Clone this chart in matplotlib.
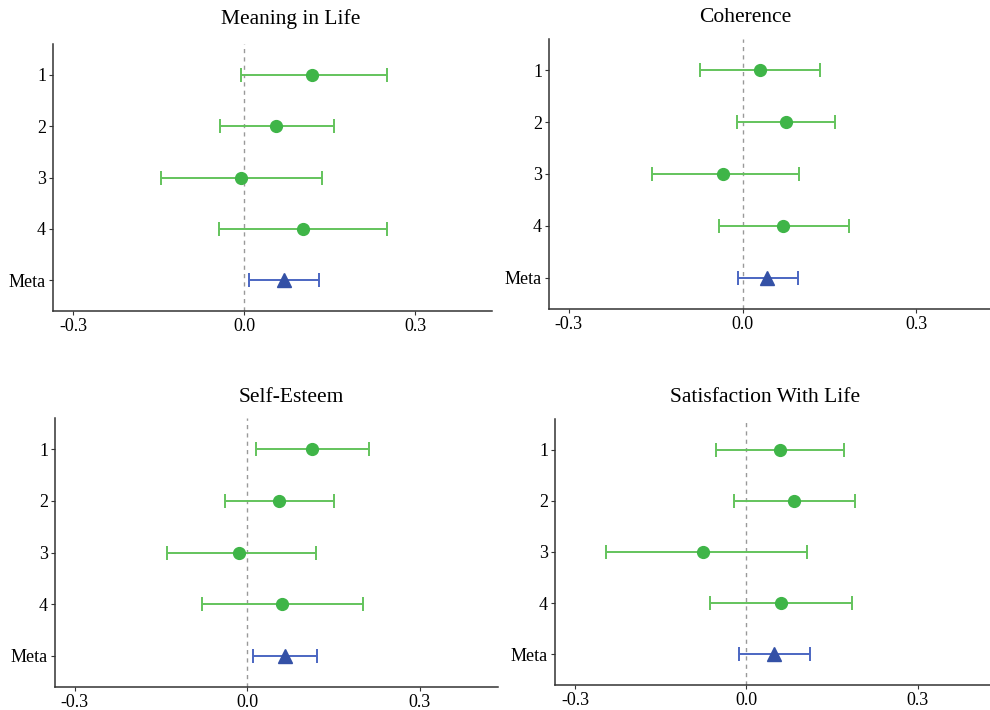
import matplotlib
matplotlib.use("Agg")
import matplotlib.pyplot as plt
import numpy as np

plt.rcParams["font.family"] = ["Liberation Serif", "DejaVu Serif"]

titres = ["Meaning in Life", "Coherence", "Self-Esteem", "Satisfaction With Life"]
etudes = ["1", "2", "3", "4", "Meta"]

# estimations (points) et bornes des IC, lignes 1..4 puis Meta
est_sens   = [0.120, 0.057, -0.006, 0.104, 0.070]
bas_sens   = [-0.006, -0.042, -0.146, -0.043, 0.009]
haut_sens  = [0.251, 0.157, 0.136, 0.250, 0.132]

est_coh    = [0.030, 0.075, -0.033, 0.070, 0.043]
bas_coh    = [-0.073, -0.009, -0.157, -0.041, -0.008]
haut_coh   = [0.133, 0.160, 0.097, 0.184, 0.095]

est_estime  = [0.113, 0.056, -0.014, 0.061, 0.066]
bas_estime  = [0.016, -0.038, -0.139, -0.078, 0.010]
haut_estime = [0.212, 0.151, 0.119, 0.202, 0.122]

est_satis  = [0.060, 0.084, -0.075, 0.061, 0.049]
bas_satis  = [-0.053, -0.021, -0.246, -0.064, -0.012]
haut_satis = [0.172, 0.190, 0.106, 0.185, 0.112]

donnees = [
    (est_sens, bas_sens, haut_sens),
    (est_coh, bas_coh, haut_coh),
    (est_estime, bas_estime, haut_estime),
    (est_satis, bas_satis, haut_satis),
]

VERT_LIGNE = "#63c35c"
VERT_POINT = "#3fb548"
BLEU_LIGNE = "#4b66c2"
BLEU_POINT = "#3451a6"

# positions des panneaux en pixels : gauche, droite, haut, bas
W, H = 990, 710
panneaux = [
    (53, 492, 44, 311),
    (549, 990, 39, 309),
    (55, 498, 418, 687),
    (555, 990, 419, 685),
]
xlims = [(-0.335, 0.435), (-0.334, 0.427), (-0.334, 0.436), (-0.335, 0.427)]
pos_titres = [(291, 19), (745, 18), (291, 397), (765, 397)]

fig = plt.figure(figsize=(W / 100, H / 100), dpi=100)

for k in range(4):
    g, d, h, b = panneaux[k]
    ax = fig.add_axes([g / W, 1 - b / H, (d - g) / W, (b - h) / H])
    est, bas, haut = donnees[k]
    y = np.arange(1, len(etudes) + 1)

    ax.axvline(0, color="#999999", linestyle=(0, (3, 3)), linewidth=1.0, zorder=1)

    for i in range(len(etudes)):
        meta = etudes[i] == "Meta"
        cl = BLEU_LIGNE if meta else VERT_LIGNE
        cp = BLEU_POINT if meta else VERT_POINT
        ax.errorbar(
            est[i], y[i],
            xerr=[[est[i] - bas[i]], [haut[i] - est[i]]],
            fmt="none", ecolor=cl, elinewidth=1.4, capsize=5, capthick=1.4, zorder=2,
        )
        ax.plot(
            est[i], y[i],
            marker="^" if meta else "o",
            markersize=9.5 if meta else 8.5,
            color=cp, linestyle="none", zorder=3,
        )

    ax.set_xlim(*xlims[k])
    ax.set_ylim(5.6, 0.4)
    ax.set_yticks(y)
    ax.set_yticklabels(etudes, fontsize=13)
    ax.set_xticks([-0.3, 0.0, 0.3])
    ax.set_xticklabels(["-0.3", "0.0", "0.3"], fontsize=13)
    ax.tick_params(length=3, width=0.8, color="#333333", pad=2)

    for cote in ["top", "right"]:
        ax.spines[cote].set_visible(False)
    for cote in ["left", "bottom"]:
        ax.spines[cote].set_color("#333333")
        ax.spines[cote].set_linewidth(1.1)

    tx, ty = pos_titres[k]
    fig.text(tx / W, 1 - ty / H, titres[k], ha="center", va="center", fontsize=15.5)

plt.savefig("out.png", dpi=100)
plt.close()
